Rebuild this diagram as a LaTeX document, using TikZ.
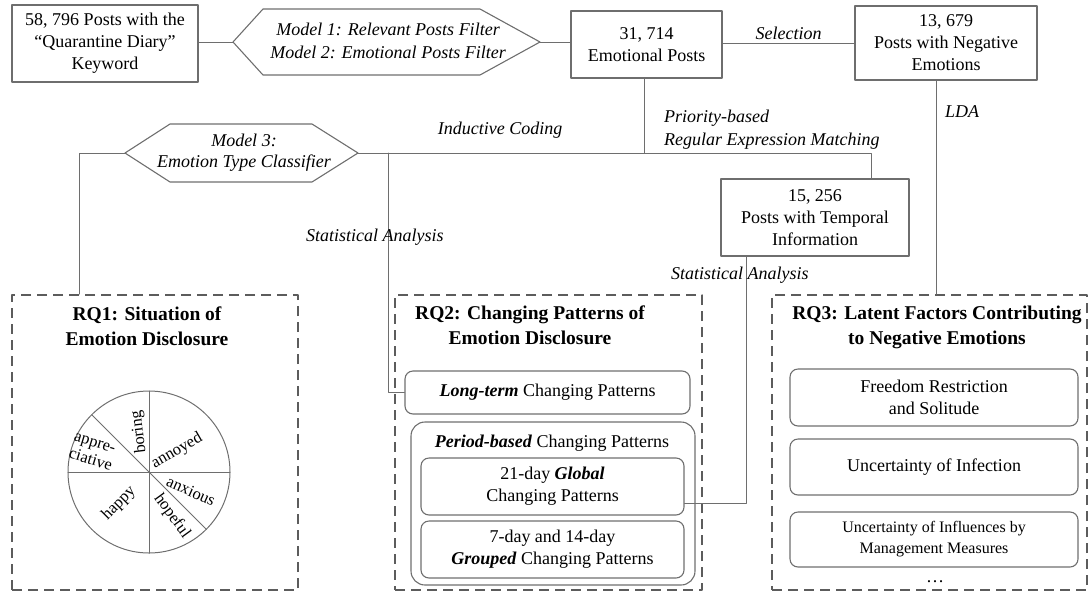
\documentclass[tikz,border=0pt]{standalone}
\usepackage{fontspec}
\setmainfont{Liberation Serif}
\usetikzlibrary{positioning, calc}

\begin{document}
\begin{tikzpicture}[x=1pt, y=-1pt, line cap=round, line join=round]
	
	\definecolor{linegray}{HTML}{6E6E6E}
	\definecolor{dashgray}{HTML}{5C5C5C}
	
	\def\pr{81}
	
	\tikzset{
		txt/.style={font=\fontsize{18}{22}\selectfont, align=center, inner sep=0pt},
		lbl/.style={font=\fontsize{18}{23}\selectfont\itshape, inner sep=0pt},
		postbox/.style={txt, draw=linegray, line width=1.1pt},
		subbox/.style={txt, draw=linegray, line width=1.1pt, rounded corners=8pt},
		rqbox/.style={draw=dashgray, line width=2pt, line cap=butt, dash pattern=on 10pt off 6pt},
		rqtitle/.style={font=\fontsize{19.5}{25}\selectfont\bfseries, align=center, inner sep=0pt},
		hexa/.style={draw=linegray, line width=1.1pt},
		link/.style={draw=linegray, line width=1pt},
		slice/.style={font=\fontsize{16.5}{18}\selectfont, inner sep=0pt}
	}
	
	\useasboundingbox (0,0) rectangle (1091,592);
	
	\coordinate (rq1X)   at (79,0);
	\coordinate (statX)  at (388,0);
	\coordinate (emoX)   at (644,0);
	\coordinate (tempX)  at (746,0);
	\coordinate (regexX) at (871,0);
	\coordinate (ldaX)   at (936,0);
	
	% post counts
	\node[postbox, minimum width=186pt, minimum height=77pt] (keyword) at (105,43.5) {58, 796 Posts with the\\“Quarantine Diary”\\Keyword};
	\node[postbox, minimum width=151pt, minimum height=67pt] (emoPosts) at (646.5,44.5) {31, 714\\Emotional Posts};
	\node[postbox, minimum width=182pt, minimum height=74pt] (negPosts) at (946,43) {13, 679\\Posts with Negative\\Emotions};
	\node[postbox, minimum width=188pt, minimum height=77pt] (tempPosts) at (815,217.5) {15, 256\\Posts with Temporal\\Information};
	
	% models
	\coordinate (filtL) at (233,42);
	\coordinate (filtR) at (540,42);
	\draw[hexa] (filtL) -- (263,9) -- (480,9) -- (filtR) -- (480,75) -- (263,75) -- cycle;
	\node[lbl, align=center] (filters) at (388,41) {Model 1: Relevant Posts Filter\\Model 2: Emotional Posts Filter};
	
	\coordinate (classL) at (125,153);
	\coordinate (classR) at (358,153);
	\draw[hexa] (classL) -- (170,124) -- (312,124) -- (classR) -- (312,182) -- (170,182) -- cycle;
	\node[lbl, align=center, font=\fontsize{18}{21}\selectfont\itshape] (classifier) at (244,152.5) {Model 3:\\Emotion Type Classifier};
	
	% research questions
	\node[rqbox, minimum width=286pt, minimum height=295pt] (rq1) at (155,442.5) {};
	\node[rqbox, minimum width=307pt, minimum height=295pt] (rq2) at (548.5,442.5) {};
	\node[rqbox, minimum width=315pt, minimum height=295pt] (rq3) at (929.5,442.5) {};
	
	\node[rqtitle] (rq1title) at (147,326) {RQ1: Situation of\\Emotion Disclosure};
	\node[rqtitle] (rq2title) at (530,325) {RQ2: Changing Patterns of\\Emotion Disclosure};
	\node[rqtitle] (rq3title) at (937,327) {RQ3: Latent Factors Contributing\\to Negative Emotions};
	
	% RQ1 pie
	\coordinate (pie) at (149,472);
	\draw[link] (pie) circle[radius=\pr];
	\draw[link] ($(pie)+(0,-\pr)$) -- ($(pie)+(0,\pr)$);
	\draw[link] ($(pie)+(-\pr,0)$) -- ($(pie)+(\pr,0)$);
	\draw[link] ($(pie)+(-135:\pr)$) -- ($(pie)+(45:\pr)$);
	
	\node[slice, rotate=30] (sAnnoyed) at (177,451) {annoyed};
	\node[slice, rotate=97] (sBoring) at (139,432) {boring};
	\node[slice, rotate=-17, align=left] (sAppre) at (93,452) {appre-\\ciative};
	\node[slice, rotate=45] (sHappy) at (119,503) {happy};
	\node[slice, rotate=-54] (sHopeful) at (172,516) {hopeful};
	\node[slice, rotate=-24] (sAnxious) at (191,491) {anxious};
	
	% RQ2 patterns
	\node[subbox, minimum width=285pt, minimum height=43pt] (longTerm) at (547.5,392.5) {\textbf{\textit{Long-term}} Changing Patterns};
	\node[subbox, rounded corners=14pt, minimum width=284pt, minimum height=163pt] (periodBox) at (553,503.5) {};
	\node[txt] (periodTitle) at (552,443) {\textbf{\textit{Period-based}} Changing Patterns};
	\node[subbox, minimum width=263pt, minimum height=57pt] (globalBox) at (552.5,486.5) {21-day \textbf{\textit{Global}}\\Changing Patterns};
	\node[subbox, minimum width=263pt, minimum height=57pt] (groupedBox) at (552.5,549.5) {7-day and 14-day\\\textbf{\textit{Grouped}} Changing Patterns};
	
	% RQ3 factors
	\node[subbox, minimum width=288pt, minimum height=57pt] (factorA) at (934,397.5) {Freedom Restriction\\and Solitude};
	\node[subbox, minimum width=288pt, minimum height=56pt] (factorB) at (934,467) {Uncertainty of Infection};
	\node[subbox, font=\fontsize{16}{21}\selectfont, minimum width=288pt, minimum height=55pt] (factorC) at (934,539.5) {Uncertainty of Influences by\\Management Measures};
	\node[txt] (factorMore) at (935,582) {\dots};
	
	% connectors
	\draw[link] (keyword.east |- filtL) -- (filtL);
	\draw[link] (filtR) -- (emoPosts.west |- filtR);
	\draw[link] (emoPosts.east |- negPosts.west) -- (negPosts.west) node[lbl, midway, above=3pt] (selLabel) {Selection};
	\draw[link] (negPosts.south -| ldaX) -- (rq3.north -| ldaX);
	\draw[link] (emoPosts.south -| emoX) -- (classR -| emoX);
	\draw[link] (classR) -| (tempPosts.north -| regexX);
	\draw[link] (classL) -| (rq1.north -| rq1X);
	\draw[link] (classR -| statX) |- (longTerm.west);
	\draw[link] ($(globalBox.east)+(0,16.5)$) -| (tempPosts.south -| tempX);
	
	\node[lbl, anchor=west] (ldaLabel) at (945,112) {LDA};
	\node[lbl] (inductLabel) at (500,130) {Inductive Coding};
	\node[lbl, anchor=west, align=left] (regexLabel) at (664,130) {Priority-based\\Regular Expression Matching};
	\node[lbl, anchor=west] (statLabelA) at (306,237) {Statistical Analysis};
	\node[lbl, anchor=west] (statLabelB) at (671,275) {Statistical Analysis};
	
\end{tikzpicture}
\end{document}
